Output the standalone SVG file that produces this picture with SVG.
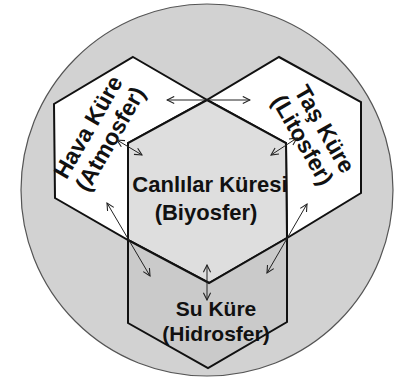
<svg xmlns="http://www.w3.org/2000/svg" width="399" height="380" viewBox="0 0 399 380">
<style>
.edge{stroke:#111;stroke-width:2;stroke-linejoin:miter}
.arr{stroke:#222;stroke-width:1;fill:none;marker-start:url(#ah);marker-end:url(#ah)}
text{font-family:"Liberation Sans",Arial,sans-serif;font-weight:bold;fill:#111;text-anchor:middle}
</style>
<defs>
<marker id="ah" viewBox="0 0 10 10" refX="9" refY="5" markerWidth="9" markerHeight="9" markerUnits="userSpaceOnUse" orient="auto-start-reverse">
<path d="M1,1 L9,5 L1,9" fill="none" stroke="#222" stroke-width="1.2"/>
</marker>
</defs>
<rect width="399" height="380" fill="#fff"/>
<g id="earth">
<circle cx="207" cy="190" r="186" fill="#d2d2d2" stroke="#555" stroke-width="1.2"/>
</g>
<g id="hava">
<polygon class="edge" fill="#fff" points="133,57 207,100 128,143 128,240 55,198 54,104"/>
<text font-size="23" transform="translate(95,131) rotate(-60)">Hava Küre</text>
<text font-size="23" transform="translate(117,143) rotate(-60)">(Atmosfer)</text>
</g>
<g id="tas">
<polygon class="edge" fill="#fff" points="279,57 361,102 361,193 287,238 286,143 207,100"/>
<text font-size="23" transform="translate(318,133) rotate(60)">Taş Küre</text>
<text font-size="23" transform="translate(296,144) rotate(60)">(Litosfer)</text>
</g>
<g id="canlilar">
<polygon class="edge" fill="#dedede" points="207,100 286,143 287,238 209,283 128,240 128,143"/>
<text font-size="22" x="210" y="192">Canlılar Küresi</text>
<text font-size="22" x="206" y="220">(Biyosfer)</text>
</g>
<g id="su">
<polygon class="edge" fill="#cacaca" points="128,240 209,283 287,238 287,322 208,368 128,323"/>
<text font-size="21" x="216" y="316">Su Küre</text>
<text font-size="21" x="216" y="341">(Hidrosfer)</text>
</g>
<g id="connectors">
<line class="arr" x1="167" y1="100" x2="250" y2="100"/>
<line class="arr" x1="117" y1="140" x2="142" y2="155"/>
<line class="arr" x1="297" y1="138" x2="271" y2="155"/>
<line class="arr" x1="107" y1="203" x2="150" y2="276"/>
<line class="arr" x1="307" y1="204" x2="267" y2="273"/>
<line class="arr" x1="207" y1="265" x2="207" y2="300"/>
</g>
</svg>
